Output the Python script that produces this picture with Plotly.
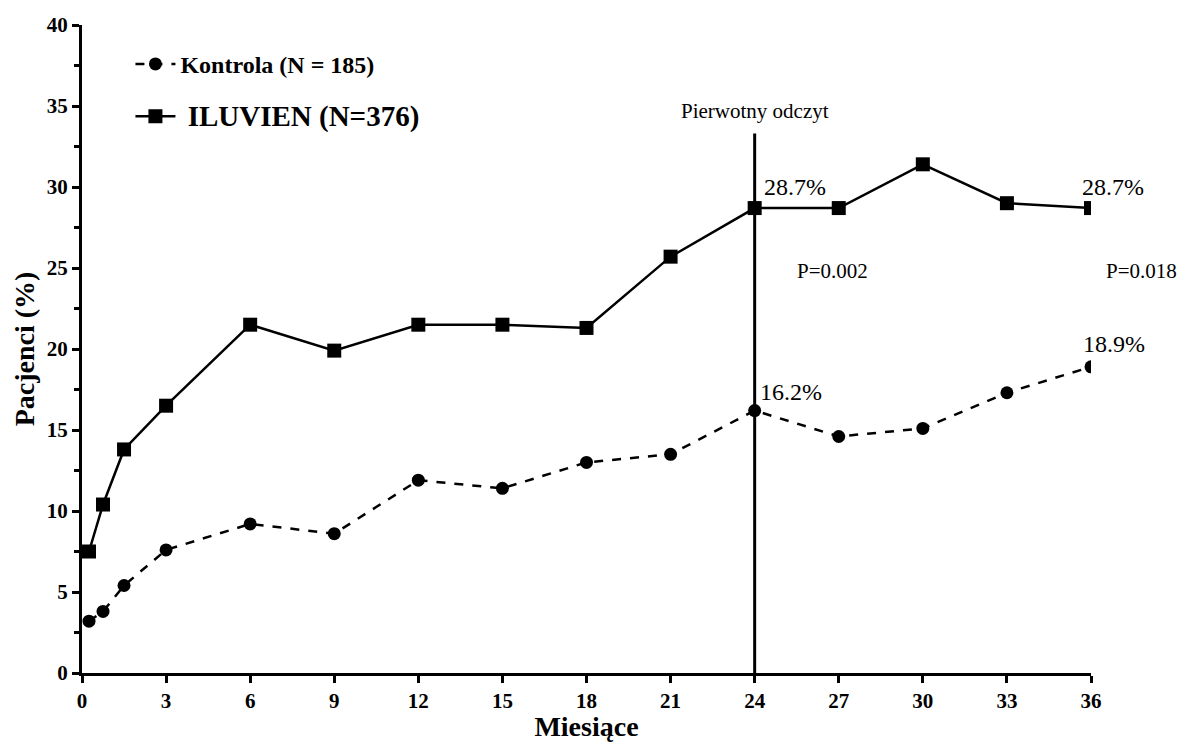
import plotly.graph_objects as go

months = [0.25, 0.75, 1.5, 3, 6, 9, 12, 15, 18, 21, 24, 27, 30, 33, 36]
kontrola = [3.2, 3.8, 5.4, 7.6, 9.2, 8.6, 11.9, 11.4, 13.0, 13.5, 16.2, 14.6, 15.1, 17.3, 18.9]
iluvien = [7.5, 10.4, 13.8, 16.5, 21.5, 19.9, 21.5, 21.5, 21.3, 25.7, 28.7, 28.7, 31.4, 29.0, 28.7]
x_ticks = list(range(0, 37, 3))
y_ticks = list(range(0, 41, 5))

FONT = "Liberation Serif, Times New Roman, serif"

fig = go.Figure()
fig.add_trace(go.Scatter(
    x=months, y=kontrola, mode="lines+markers",
    name="<b>Kontrola (N = 185)</b>", legendgroup="a",
    line=dict(color="black", width=2.5, dash="dash"),
    marker=dict(symbol="circle", size=13, color="black"),
))
fig.add_trace(go.Scatter(
    x=months, y=iluvien, mode="lines+markers",
    name="<span style='font-size:29px'><b> ILUVIEN (N=376)</b></span>", legendgroup="b",
    line=dict(color="black", width=2.5),
    marker=dict(symbol="square", size=14, color="black"),
))

# vertical line at primary readout
fig.add_shape(type="line", x0=24, x1=24, y0=0, y1=33.3, xref="x", yref="y",
              line=dict(color="black", width=3))

fig.add_annotation(x=24, y=33.3, text="Pierwotny odczyt", showarrow=False,
                   yanchor="middle", yshift=23, font=dict(family=FONT, size=21, color="black"))

ann = [
    (24, 28.7, "28.7%", 40, 21, 24),
    (36, 28.7, "28.7%", 22, 21, 24),
    (24, 16.2, "16.2%", 36, 19, 24),
    (36, 18.9, "18.9%", 23, 23, 24),
    (24, 28.7, "P=0.002", 78, -63, 21),
    (36, 28.7, "P=0.018", 50, -63, 21),
]
for x, y, t, dx, dy, fs in ann:
    fig.add_annotation(x=x, y=y, text=t, showarrow=False, xshift=dx, yshift=dy,
                       font=dict(family=FONT, size=fs, color="black"))

fig.update_layout(
    width=1179, height=742,
    margin=dict(l=82, r=88, t=25, b=69),
    plot_bgcolor="white", paper_bgcolor="white",
    font=dict(family=FONT, color="black"),
    showlegend=True,
    legend=dict(x=0.048, y=0.974, xanchor="left", yanchor="top",
                font=dict(family=FONT, size=24, color="black"),
                bgcolor="rgba(0,0,0,0)", tracegroupgap=18, traceorder="grouped",
                itemwidth=40),
    xaxis=dict(range=[0, 36], tickvals=x_ticks, showline=True, linecolor="black", linewidth=3,
               ticks="outside", ticklen=7, tickwidth=3, tickcolor="black",
               showgrid=False, zeroline=False, automargin=False,
               tickfont=dict(family=FONT, size=21, color="black", weight="bold"),
               title=dict(text="<b>Miesiące</b>", font=dict(family=FONT, size=28, color="black"), standoff=2)),
    yaxis=dict(range=[0, 40], tickvals=y_ticks, showline=True, linecolor="black", linewidth=3,
               ticks="outside", ticklen=7, tickwidth=3, tickcolor="black",
               minor=dict(dtick=2.5, ticks="outside", ticklen=5, tickwidth=3, tickcolor="black", showgrid=False),
               showgrid=False, zeroline=False, automargin=False,
               tickfont=dict(family=FONT, size=21, color="black", weight="bold"),
               title=dict(text="<b>Pacjenci (%)</b>", font=dict(family=FONT, size=28, color="black"), standoff=4)),
)

fig.write_html("out.html")
